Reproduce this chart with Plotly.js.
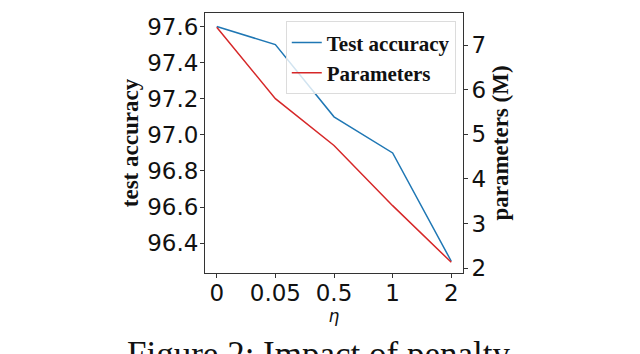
<!DOCTYPE html>
<html>
<head>
<meta charset="utf-8">
<script src="https://cdn.plot.ly/plotly-3.0.1.min.js"></script>
<style>html,body{margin:0;padding:0;background:#fff;}#chart{width:640px;height:354px;}</style>
</head>
<body>
<div id="chart"></div>
<script>
const etaLabels = ["0", "0.05", "0.5", "1", "2"];
const testAccuracy = [97.6, 97.5, 97.1, 96.9, 96.3];
const parametersM = [7.4, 5.8, 4.75, 3.4, 2.13];

const traces = [
  {x: etaLabels, y: testAccuracy, name: "Test accuracy", type: "scatter", mode: "lines",
   line: {color: "#1f77b4", width: 1.5}, yaxis: "y"},
  {x: etaLabels, y: parametersM, name: "Parameters", type: "scatter", mode: "lines",
   line: {color: "#d62728", width: 1.5}, yaxis: "y2"}
];

const tickFont = {family: "DejaVu Sans", size: 23, color: "#111"};
const titleFont = {family: "Liberation Serif", size: 23, color: "#111", weight: "bold"};

const layout = {
  width: 640, height: 354,
  margin: {l: 205, r: 177, t: 13, b: 81},
  paper_bgcolor: "#fff", plot_bgcolor: "#fff",
  showlegend: true,
  legend: {
    x: 0.972, y: 0.968, xanchor: "right", yanchor: "top",
    bgcolor: "rgba(255,255,255,0.8)", bordercolor: "#dcdcdc", borderwidth: 1,
    font: {family: "Liberation Serif", size: 21, color: "#111", weight: "bold"},
    tracegroupgap: 0
  },
  xaxis: {
    type: "category", range: [-0.2, 4.2],
    showline: true, linecolor: "#333", linewidth: 1, mirror: true,
    ticks: "outside", ticklen: 4, tickcolor: "#333", ticklabelstandoff: -5,
    showgrid: false, zeroline: false, tickfont: tickFont,
    title: {text: "<i>η</i>", font: {family: "DejaVu Sans", size: 17, color: "#111"}, standoff: 0}
  },
  yaxis: {
    range: [96.235, 97.675],
    tickvals: [96.4, 96.6, 96.8, 97.0, 97.2, 97.4, 97.6],
    ticktext: ["96.4", "96.6", "96.8", "97.0", "97.2", "97.4", "97.6"],
    showline: true, linecolor: "#333", linewidth: 1,
    ticks: "outside", ticklen: 4, tickcolor: "#333", ticklabelstandoff: -3,
    showgrid: false, zeroline: false, tickfont: tickFont,
    title: {text: "test accuracy", font: titleFont, standoff: 2}
  },
  yaxis2: {
    overlaying: "y", side: "right", range: [1.89, 7.72],
    tickvals: [2, 3, 4, 5, 6, 7],
    showline: true, linecolor: "#333", linewidth: 1,
    ticks: "outside", ticklen: 4, tickcolor: "#333", ticklabelstandoff: -1,
    showgrid: false, zeroline: false, tickfont: tickFont,
    title: {text: "parameters (M)", font: titleFont, standoff: 6}
  },
  annotations: [{
    xref: "paper", yref: "paper", x: 0.44, y: -0.23, xanchor: "center", yanchor: "top",
    text: "Figure 2: Impact of penalty", showarrow: false,
    font: {family: "Liberation Serif", size: 35, color: "#111"}
  }]
};

Plotly.newPlot("chart", traces, layout, {displayModeBar: false, staticPlot: true});
</script>
</body>
</html>
